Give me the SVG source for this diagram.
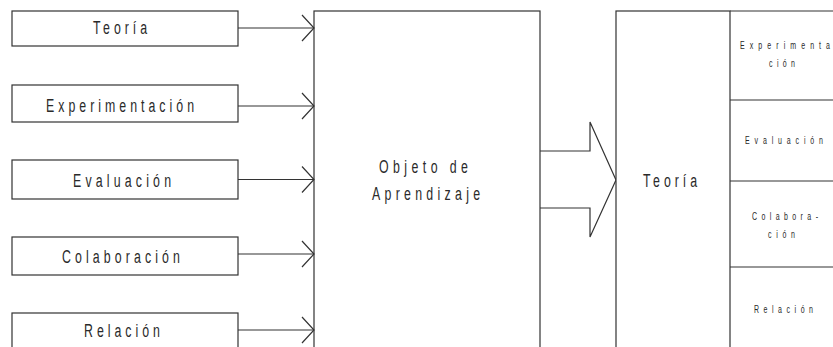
<svg xmlns="http://www.w3.org/2000/svg" width="833" height="347" viewBox="0 0 833 347">
<defs>
<style>
.box{fill:#fff;stroke:#333;stroke-width:1.2}
.ln{fill:none;stroke:#333;stroke-width:1.2}
.t{font-family:"Liberation Sans",Arial,sans-serif;fill:#2a2a2a;font-size:19px}
.s{font-family:"Liberation Sans",Arial,sans-serif;fill:#2a2a2a;font-size:10.8px}
</style>
<marker id="chev" markerUnits="userSpaceOnUse" markerWidth="16" markerHeight="30" viewBox="0 0 16 30" refX="14" refY="15" orient="auto">
<path d="M2,2 L14,15 L2,28" fill="none" stroke="#333" stroke-width="1.2"/>
</marker>
</defs>
<rect width="833" height="347" fill="#fff"/>
<g id="n-teoria"><rect class="box" x="12" y="11" width="226" height="35"/><text class="t" transform="translate(93,34) scale(0.65,1)" textLength="83.1" lengthAdjust="spacing">Teoría</text></g>
<g id="n-experimentacion"><rect class="box" x="12" y="85" width="226" height="37"/><text class="t" transform="translate(46,111.5) scale(0.65,1)" textLength="227.7" lengthAdjust="spacing">Experimentación</text></g>
<g id="n-evaluacion"><rect class="box" x="12" y="160" width="226" height="39"/><text class="t" transform="translate(73,187) scale(0.65,1)" textLength="150.8" lengthAdjust="spacing">Evaluación</text></g>
<g id="n-colaboracion"><rect class="box" x="12" y="237" width="226" height="38"/><text class="t" transform="translate(62,262.5) scale(0.65,1)" textLength="181.5" lengthAdjust="spacing">Colaboración</text></g>
<g id="n-relacion"><rect class="box" x="12" y="313" width="226" height="40"/><text class="t" transform="translate(84,336.5) scale(0.65,1)" textLength="116.9" lengthAdjust="spacing">Relación</text></g>
<g id="n-objeto"><rect class="box" x="314" y="11" width="226" height="345"/><text class="t" transform="translate(379,173) scale(0.65,1)" textLength="136.9" lengthAdjust="spacing">Objeto de</text><text class="t" transform="translate(372,200) scale(0.65,1)" textLength="166.2" lengthAdjust="spacing">Aprendizaje</text></g>
<g id="n-bigarrow"><path class="ln" d="M540,151 L590,151 L590,122 L616,180 L590,237 L590,208 L540,208"/></g>
<g id="n-teoria-col"><rect class="box" x="616" y="11" width="114" height="345"/><text class="t" transform="translate(643,187) scale(0.65,1)" textLength="83.1" lengthAdjust="spacing">Teoría</text></g>
<g id="n-cells">
<path class="ln" d="M730,11 L840,11 M730,100 L840,100 M730,181 L840,181 M730,267 L840,267"/>
<text class="s" transform="translate(740,49) scale(0.65,1)" textLength="138.5" lengthAdjust="spacing">Experimenta</text>
<text class="s" transform="translate(769,67) scale(0.65,1)" textLength="40" lengthAdjust="spacing">ción</text>
<text class="s" transform="translate(745,144) scale(0.65,1)" textLength="120" lengthAdjust="spacing">Evaluación</text>
<text class="s" transform="translate(752,220) scale(0.65,1)" textLength="101.5" lengthAdjust="spacing">Colabora-</text>
<text class="s" transform="translate(768,238) scale(0.65,1)" textLength="41.5" lengthAdjust="spacing">ción</text>
<text class="s" transform="translate(754,313) scale(0.65,1)" textLength="90.8" lengthAdjust="spacing">Relación</text>
</g>
<g id="connectors">
<line class="ln" x1="238" y1="28" x2="314" y2="28" marker-end="url(#chev)"/>
<line class="ln" x1="238" y1="106" x2="314" y2="106" marker-end="url(#chev)"/>
<line class="ln" x1="238" y1="179.5" x2="314" y2="179.5" marker-end="url(#chev)"/>
<line class="ln" x1="238" y1="254" x2="314" y2="254" marker-end="url(#chev)"/>
<line class="ln" x1="238" y1="330" x2="314" y2="330" marker-end="url(#chev)"/>
</g>
</svg>
